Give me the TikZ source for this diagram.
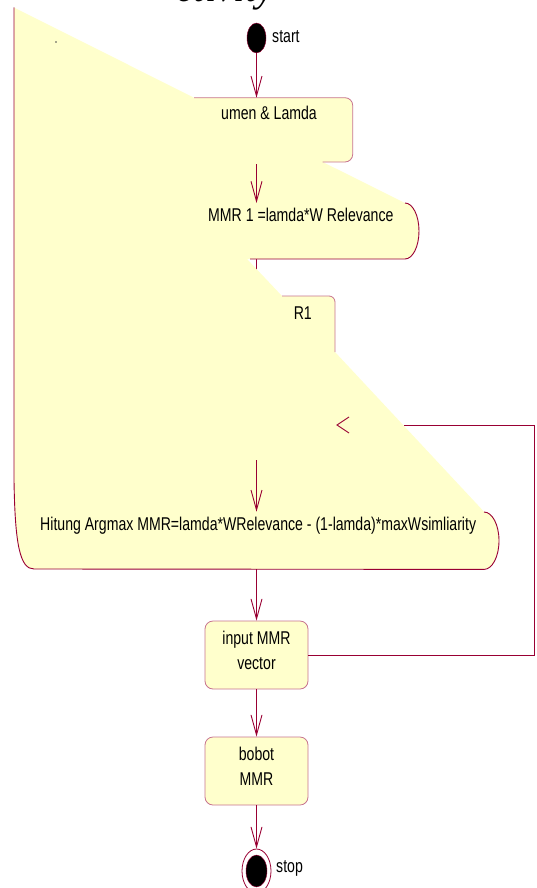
\documentclass[tikz,border=0pt]{standalone}
\usepackage{fontspec}
\usetikzlibrary{arrows.meta,shapes.geometric}
\newfontfamily\lblfont[FakeStretch=0.762]{Liberation Sans}
\newfontfamily\titlefont{Liberation Serif}
\definecolor{mmrred}{RGB}{153,0,51}
\definecolor{actfill}{RGB}{255,255,204}
\colorlet{edgepink}{mmrred!55}
\tikzset{
  lbl/.style={font=\lblfont\fontsize{18.5}{25}\selectfont, inner sep=0pt},
  actbox/.style={draw=edgepink, fill=actfill, rounded corners=8pt, minimum width=103pt,
    minimum height=68pt, inner sep=0pt, line width=0.8pt},
  flow/.style={draw=mmrred, line width=0.9pt},
  varrow/.style={flow, -{Straight Barb[length=20pt,width=11pt]}},
}
\begin{document}
\begin{tikzpicture}[x=1pt,y=-1pt]
\useasboundingbox (0,0) rectangle (536,888);

% title, cut at the top
\node[anchor=base west, inner sep=0pt, font=\titlefont\itshape\fontsize{40}{40}\selectfont] (title) at (176,2) {ctivity};

% start and stop
\node[ellipse, draw=mmrred, fill=black, minimum width=19pt, minimum height=30pt, inner sep=0pt] (start) at (256.5,38) {};
\node[ellipse, draw=mmrred, line width=0.8pt, minimum width=29pt, minimum height=44pt, inner sep=0pt] (stop) at (256.5,871) {};
\node[ellipse, draw=mmrred, fill=black, minimum width=21pt, minimum height=32pt, inner sep=0pt] (stopdot) at (stop.center) {};
\node[lbl, anchor=base west] (startlbl) at (272,43) {start};
\node[lbl, anchor=base west] (stoplbl) at (276,872) {stop};

% boxes below
\node[actbox] (input) at (256.5,655) {};
\node[lbl, align=center, yshift=5pt] (inputlbl) at (input.center) {input MMR\\vector};
\node[actbox] (bobot) at (256.5,771) {};
\node[lbl, align=center, yshift=5pt] (bobotlbl) at (bobot.center) {bobot\\MMR};

\coordinate (lumentop) at (256.5,97.7);
\coordinate (lumenbot) at (256.5,164);
\coordinate (relevtop) at (256.5,203);
\coordinate (relevbot) at (256.5,259);
\coordinate (r1top) at (256.5,296);
\coordinate (hitungin) at (256.5,460);
\coordinate (hitungtop) at (256.5,511.7);
\coordinate (hitungbot) at (256.5,569);
\coordinate (loopcut) at (404,425);
\coordinate (loopend) at (337,425);

% lines under the yellow area
\draw[flow] (relevbot) -- (r1top);
\draw[flow] (input.east) -- (534,655) -- (534,425) -- (loopcut);

% yellow area
\fill[actfill] (14,7.5) -- (194,97.7) -- (345,97.7) arc[start angle=-90,end angle=0,radius=7.7]
  -- (352.7,154.3) arc[start angle=0,end angle=90,radius=7.7] -- (322.7,162) -- (405,203)
  arc[start angle=-90,end angle=90,x radius=14,y radius=28] -- (247,259) -- (282,296)
  -- (329,296) arc[start angle=-90,end angle=0,radius=6] -- (335,352) -- (484,511.7)
  arc[start angle=-90,end angle=90,x radius=15,y radius=28.7] -- (34,569)
  .. controls (20,569) and (15,545) .. (14,480) -- cycle;
\fill[black!70] (56,42) circle[radius=0.8];

% outlines
\draw[mmrred, line width=0.9pt] (14,7.5) -- (14,480) .. controls (15,545) and (20,569) .. (34,569)
  -- (484,569.4) arc[start angle=90,end angle=-90,x radius=15,y radius=28.7];
\draw[mmrred, line width=0.9pt] (250,259) -- (405,259) arc[start angle=90,end angle=-90,x radius=14,y radius=28];
\draw[edgepink, line width=0.8pt] (194,97.7) -- (345,97.7) arc[start angle=-90,end angle=0,radius=7.7]
  -- (352.7,154.3) arc[start angle=0,end angle=90,radius=7.7] -- (322.7,162);
\draw[edgepink, line width=0.8pt] (282,296) -- (329,296) arc[start angle=-90,end angle=0,radius=6] -- (335,352);

% arrows
\draw[varrow] (start) -- (lumentop);
\draw[varrow] (lumenbot) -- (relevtop);
\draw[varrow] (hitungin) -- (hitungtop);
\draw[varrow] (hitungbot) -- (input);
\draw[varrow] (input) -- (bobot);
\draw[varrow] (bobot) -- (stop);
\draw[flow] (349,417) -- (loopend) -- (349,433);

% texts in the yellow area
\node[lbl, anchor=base east] (lumenlbl) at (317,120) {umen \& Lamda};
\node[lbl, anchor=base west] (relevlbl) at (208,221.7) {MMR 1 =lamda*W Relevance};
\node[lbl, anchor=base east] (r1lbl) at (312,319) {R1};
\node[lbl, anchor=base west] (hitunglbl) at (40,530) {Hitung Argmax MMR=lamda*WRelevance - (1-lamda)*maxWsimliarity};
\end{tikzpicture}
\end{document}
